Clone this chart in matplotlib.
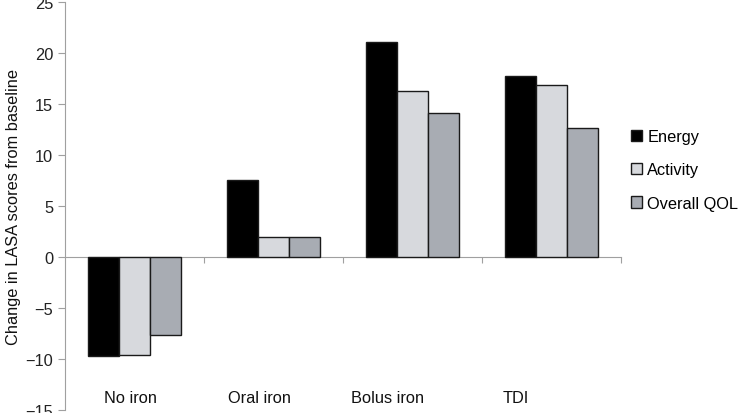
import matplotlib
matplotlib.use("Agg")
import matplotlib.pyplot as plt
import numpy as np
from matplotlib.patches import Patch

categories = ["No iron", "Oral iron", "Bolus iron", "TDI"]
series_names = ["Energy", "Activity", "Overall QOL"]
energy = [-9.7, 7.6, 21.1, 17.8]
activity = [-9.6, 2.0, 16.3, 16.9]
overall_qol = [-7.6, 2.0, 14.1, 12.7]
yticks = [-15, -10, -5, 0, 5, 10, 15, 20, 25]
ytick_labels = ["\u221215", "\u221210", "\u22125", "0", "5", "10", "15", "20", "25"]
label_shift = [-0.03, -0.10, -0.18, -0.255]

colors = ["#000000", "#d7d9dd", "#a8acb3"]
plt.rcParams['font.family'] = ['Liberation Sans', 'DejaVu Sans']
FS = 11.8

fig = plt.figure(figsize=(7.4, 4.14), dpi=100)
ax = fig.add_axes([65/740, 1-411/414, (621-65)/740, (411-3.2)/414])

x = np.arange(len(categories))
w = 0.223
for i, (vals, c) in enumerate(zip([energy, activity, overall_qol], colors)):
    ax.bar(x + (i-1)*w, vals, width=w, color=c, edgecolor="#1a1a1a", linewidth=1.0, zorder=3)

ax.set_xlim(-0.5, 3.5)
ax.set_ylim(-15, 25)
ax.set_yticks(yticks)
ax.set_yticklabels(ytick_labels, fontsize=FS, color="#222222")
ax.spines['top'].set_visible(False)
ax.spines['right'].set_visible(False)
ax.spines['left'].set_color("#a0a0a0")
ax.spines['bottom'].set_color("#a0a0a0")
ax.spines['bottom'].set_position(('data', 0))
ax.spines['bottom'].set_zorder(2)
ax.set_xticks([0.5, 1.5, 2.5, 3.5])
ax.set_xticklabels([])
ax.tick_params(axis='x', direction='out', length=4, color="#a0a0a0")
ax.tick_params(axis='y', direction='out', length=5, color="#a0a0a0", pad=3.5)

for xi, lab, s in zip(x, categories, label_shift):
    ax.text(xi + s, -13.8, lab, ha='center', va='center', fontsize=FS, color="#111111")

ax.set_ylabel("Change in LASA scores from baseline", fontsize=FS, color="#111111", labelpad=3)

handles = [Patch(facecolor=c, edgecolor="#1a1a1a", linewidth=1.0) for c in colors]
fig.legend(handles, series_names, loc='center left', bbox_to_anchor=(0.853, 0.587),
           frameon=False, fontsize=FS, handlelength=0.68, handleheight=0.68,
           handletextpad=0.3, labelspacing=1.12, borderpad=0, borderaxespad=0)

fig.savefig("out.png", dpi=100)
